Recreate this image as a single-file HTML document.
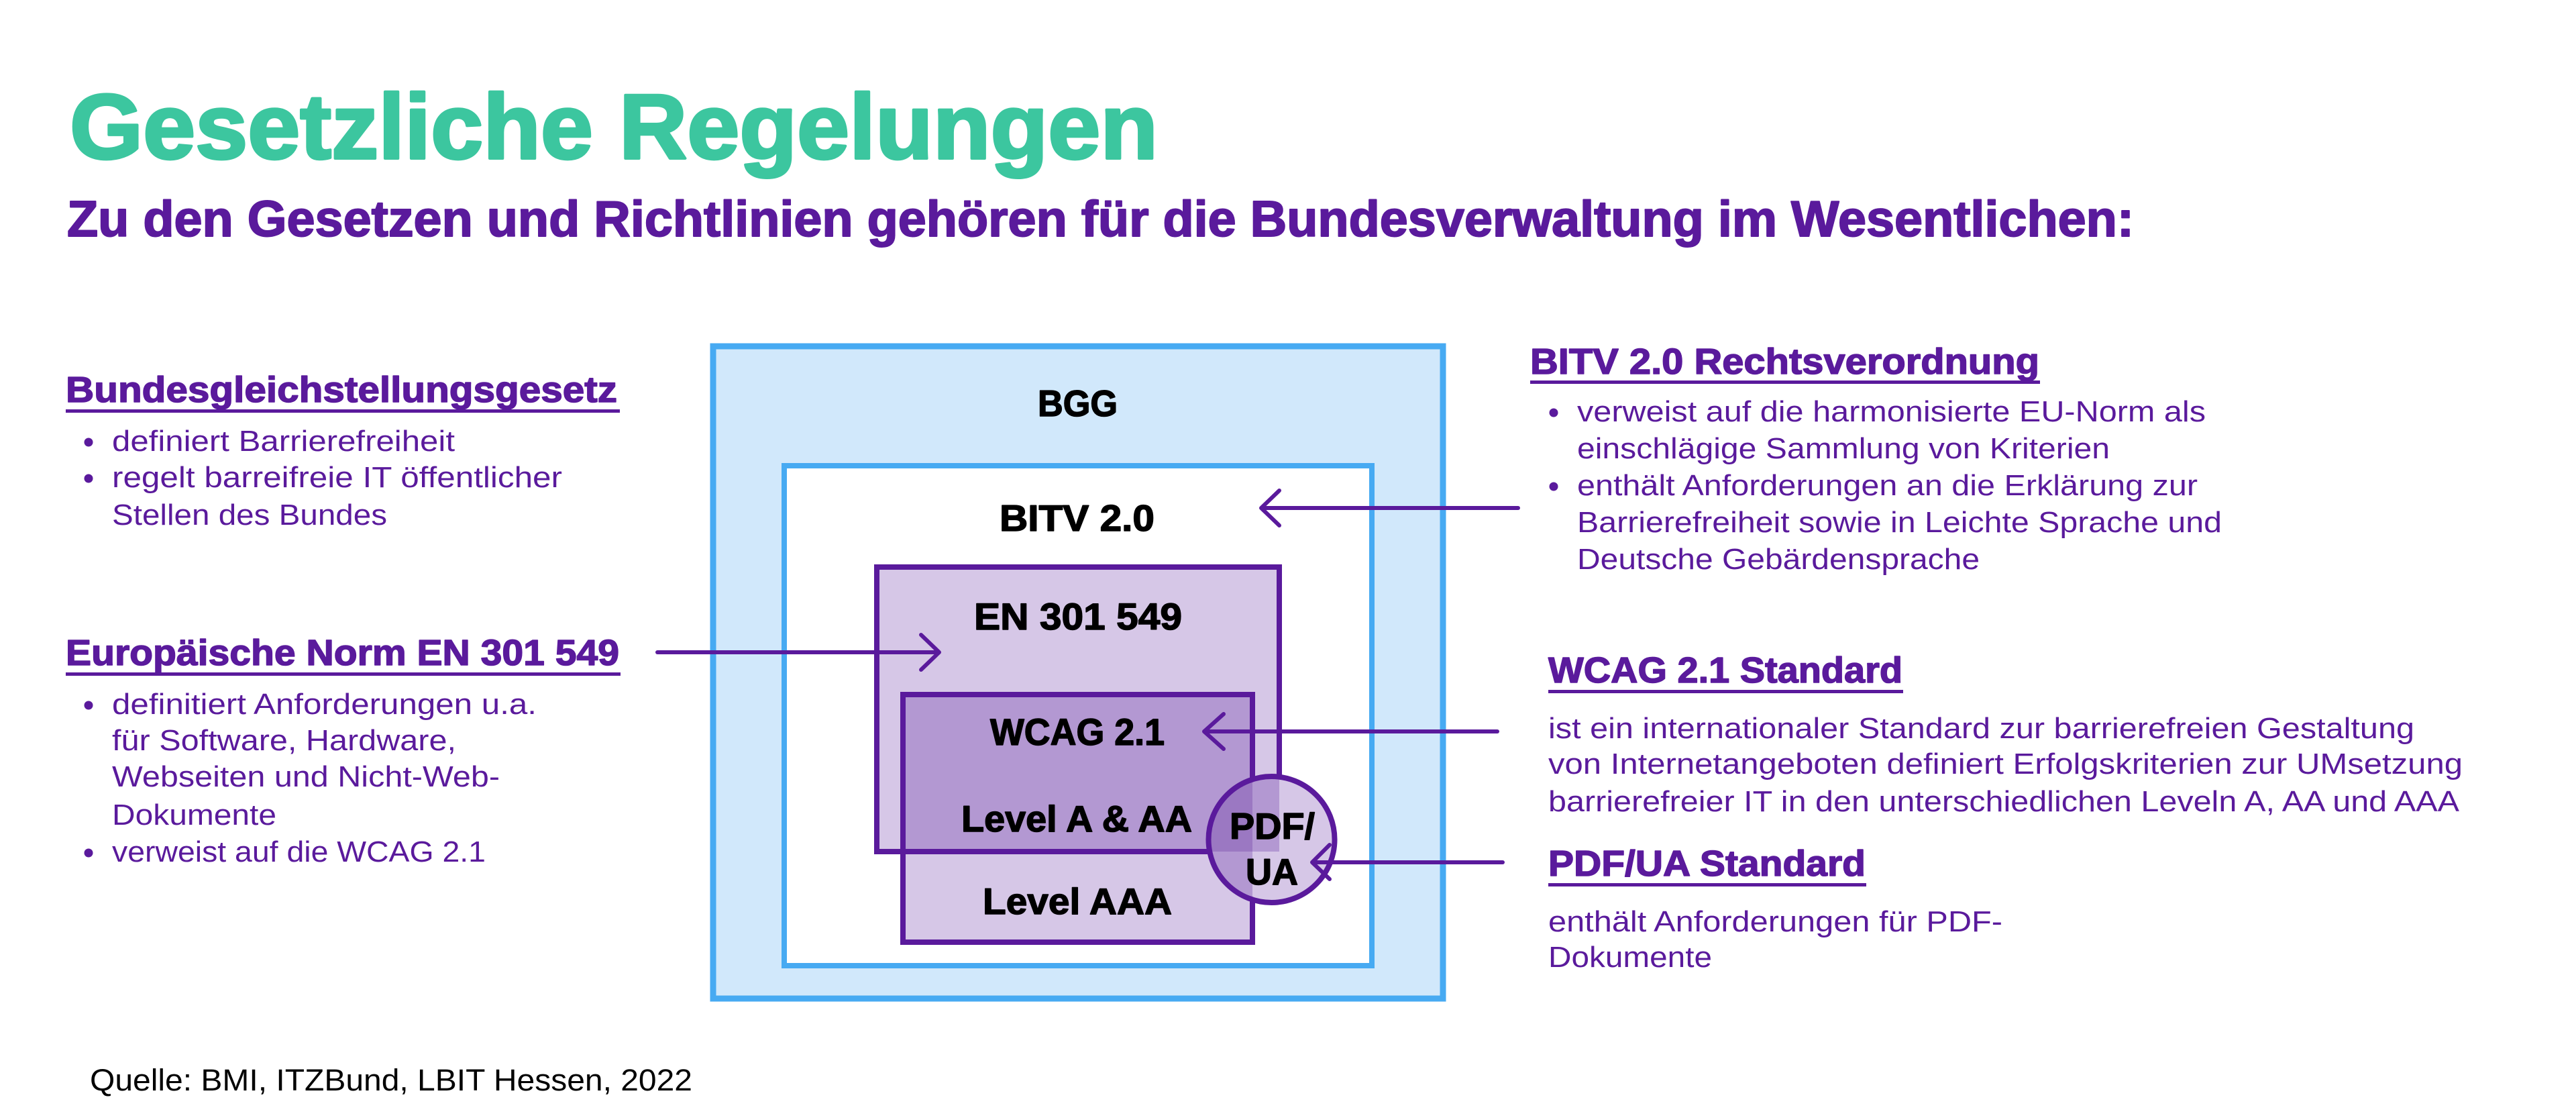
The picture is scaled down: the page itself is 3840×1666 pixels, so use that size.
<!DOCTYPE html>
<html><head><meta charset="utf-8"><style>
html,body{margin:0;padding:0;background:#fff;}
svg{display:block;}
.b{font-family:"Liberation Sans",Arial,sans-serif;font-weight:bold;}
.r{font-family:"Liberation Sans",Arial,sans-serif;font-weight:normal;}
</style></head><body>
<svg width="3840" height="1666" viewBox="0 0 3840 1666" xmlns="http://www.w3.org/2000/svg">
<rect width="3840" height="1666" fill="#fff"/>
<!-- Title -->
<text class="b" x="104" y="236" font-size="137" fill="#3cc69f" stroke="#3cc69f" stroke-width="4" stroke-linejoin="round" textLength="1622" lengthAdjust="spacingAndGlyphs">Gesetzliche Regelungen</text>
<text class="b" x="100" y="352" font-size="75" fill="#5a1a9c" stroke="#5a1a9c" stroke-width="2" stroke-linejoin="round" textLength="3081" lengthAdjust="spacingAndGlyphs">Zu den Gesetzen und Richtlinien gehören für die Bundesverwaltung im Wesentlichen:</text>

<!-- Diagram -->
<defs><clipPath id="cc"><circle cx="1895.5" cy="1251" r="94"/></clipPath></defs>
<rect x="1063" y="516" width="1088" height="972" fill="#d1e8fb" stroke="#47aaf2" stroke-width="9"/>
<rect x="1169" y="694" width="876" height="745" fill="#ffffff" stroke="#47aaf2" stroke-width="8"/>
<rect x="1307" y="845" width="600" height="424" fill="#d6c7e7"/>
<rect x="1346" y="1035" width="521" height="369" fill="#d6c7e7"/>
<rect x="1346" y="1035" width="521" height="234" fill="#b398d2"/>
<rect x="1307" y="845" width="600" height="424" fill="none" stroke="#5a1a9c" stroke-width="8"/>
<rect x="1346" y="1035" width="521" height="369" fill="none" stroke="#5a1a9c" stroke-width="8"/>
<!-- circle -->
<circle cx="1895.5" cy="1251" r="94" fill="#d6c7e7"/>
<g clip-path="url(#cc)">
<rect x="1300" y="840" width="607" height="429" fill="#b398d2"/>
<rect x="1340" y="1030" width="527" height="374" fill="#b398d2"/>
<rect x="1340" y="1030" width="527" height="239" fill="#9b78c2"/>
</g>
<circle cx="1895.5" cy="1251" r="94" fill="none" stroke="#5a1a9c" stroke-width="8"/>

<!-- labels -->
<g fill="#000" stroke="#000" stroke-width="1.5" stroke-linejoin="round">
<text class="b" x="1547" y="620" font-size="55" textLength="119" lengthAdjust="spacingAndGlyphs">BGG</text>
<text class="b" x="1490" y="791" font-size="55" textLength="231" lengthAdjust="spacingAndGlyphs">BITV 2.0</text>
<text class="b" x="1452" y="938" font-size="56" textLength="310" lengthAdjust="spacingAndGlyphs">EN 301 549</text>
<text class="b" x="1476" y="1110" font-size="56" textLength="260" lengthAdjust="spacingAndGlyphs">WCAG 2.1</text>
<text class="b" x="1433" y="1239" font-size="55" textLength="344" lengthAdjust="spacingAndGlyphs">Level A &amp; AA</text>
<text class="b" x="1465" y="1362" font-size="55" textLength="282" lengthAdjust="spacingAndGlyphs">Level AAA</text>
<text class="b" x="1833" y="1250" font-size="55" textLength="127" lengthAdjust="spacingAndGlyphs">PDF/</text>
<text class="b" x="1857" y="1318" font-size="55" textLength="78" lengthAdjust="spacingAndGlyphs">UA</text>
</g>

<!-- arrows -->
<g stroke="#5a1a9c" stroke-width="6" stroke-linecap="round" stroke-linejoin="round" fill="none">
<line x1="2263" y1="757" x2="1882" y2="757"/>
<polyline points="1907,731 1880,757 1907,783"/>
<line x1="980" y1="972" x2="1398" y2="972"/>
<polyline points="1373,946 1400,972 1373,998"/>
<line x1="2232" y1="1090" x2="1797" y2="1090"/>
<polyline points="1824,1064 1795,1090 1824,1116"/>
<line x1="2240" y1="1285" x2="1958" y2="1285"/>
<polyline points="1982,1259 1956,1285 1982,1310"/>
</g>

<!-- Left column -->
<g fill="#5a1a9c">
<text class="b" x="98" y="599" font-size="54" stroke="#5a1a9c" stroke-width="1.5" stroke-linejoin="round" textLength="822" lengthAdjust="spacingAndGlyphs">Bundesgleichstellungsgesetz</text>
<rect x="98" y="610" width="826" height="5"/>
<circle cx="132" cy="659" r="6.5"/>
<text class="r" x="167" y="672" font-size="44" textLength="511" lengthAdjust="spacingAndGlyphs">definiert Barrierefreiheit</text>
<circle cx="132" cy="713" r="6.5"/>
<text class="r" x="167" y="726" font-size="44" textLength="671" lengthAdjust="spacingAndGlyphs">regelt barreifreie IT öffentlicher</text>
<text class="r" x="167" y="782" font-size="44" textLength="410" lengthAdjust="spacingAndGlyphs">Stellen des Bundes</text>

<text class="b" x="98" y="991" font-size="54" stroke="#5a1a9c" stroke-width="1.5" stroke-linejoin="round" textLength="825" lengthAdjust="spacingAndGlyphs">Europäische Norm EN 301 549</text>
<rect x="98" y="1002" width="827" height="5"/>
<circle cx="132" cy="1051" r="6.5"/>
<text class="r" x="167" y="1064" font-size="44" textLength="633" lengthAdjust="spacingAndGlyphs">definitiert Anforderungen u.a.</text>
<text class="r" x="167" y="1118" font-size="44" textLength="513" lengthAdjust="spacingAndGlyphs">für Software, Hardware,</text>
<text class="r" x="167" y="1172" font-size="44" textLength="578" lengthAdjust="spacingAndGlyphs">Webseiten und Nicht-Web-</text>
<text class="r" x="167" y="1229" font-size="44" textLength="245" lengthAdjust="spacingAndGlyphs">Dokumente</text>
<circle cx="132" cy="1271" r="6.5"/>
<text class="r" x="167" y="1284" font-size="44" textLength="557" lengthAdjust="spacingAndGlyphs">verweist auf die WCAG 2.1</text>
</g>

<!-- Right column -->
<g fill="#5a1a9c">
<text class="b" x="2281" y="557" font-size="54" stroke="#5a1a9c" stroke-width="1.5" stroke-linejoin="round" textLength="759" lengthAdjust="spacingAndGlyphs">BITV 2.0 Rechtsverordnung</text>
<rect x="2281" y="567" width="760" height="5"/>
<circle cx="2316" cy="615" r="6.5"/>
<text class="r" x="2351" y="628" font-size="44" textLength="937" lengthAdjust="spacingAndGlyphs">verweist auf die harmonisierte EU-Norm als</text>
<text class="r" x="2351" y="683" font-size="44" textLength="794" lengthAdjust="spacingAndGlyphs">einschlägige Sammlung von Kriterien</text>
<circle cx="2316" cy="725" r="6.5"/>
<text class="r" x="2351" y="738" font-size="44" textLength="925" lengthAdjust="spacingAndGlyphs">enthält Anforderungen an die Erklärung zur</text>
<text class="r" x="2351" y="793" font-size="44" textLength="961" lengthAdjust="spacingAndGlyphs">Barrierefreiheit sowie in Leichte Sprache und</text>
<text class="r" x="2351" y="848" font-size="44" textLength="600" lengthAdjust="spacingAndGlyphs">Deutsche Gebärdensprache</text>

<text class="b" x="2308" y="1017" font-size="54" stroke="#5a1a9c" stroke-width="1.5" stroke-linejoin="round" textLength="528" lengthAdjust="spacingAndGlyphs">WCAG 2.1 Standard</text>
<rect x="2308" y="1028" width="529" height="5"/>
<text class="r" x="2308" y="1100" font-size="44" textLength="1291" lengthAdjust="spacingAndGlyphs">ist ein internationaler Standard zur barrierefreien Gestaltung</text>
<text class="r" x="2308" y="1153" font-size="44" textLength="1363" lengthAdjust="spacingAndGlyphs">von Internetangeboten definiert Erfolgskriterien zur UMsetzung</text>
<text class="r" x="2308" y="1209" font-size="44" textLength="1358" lengthAdjust="spacingAndGlyphs">barrierefreier IT in den unterschiedlichen Leveln A, AA und AAA</text>

<text class="b" x="2308" y="1305" font-size="54" stroke="#5a1a9c" stroke-width="1.5" stroke-linejoin="round" textLength="473" lengthAdjust="spacingAndGlyphs">PDF/UA Standard</text>
<rect x="2308" y="1316" width="474" height="5"/>
<text class="r" x="2308" y="1388" font-size="44" textLength="677" lengthAdjust="spacingAndGlyphs">enthält Anforderungen für PDF-</text>
<text class="r" x="2308" y="1441" font-size="44" textLength="244" lengthAdjust="spacingAndGlyphs">Dokumente</text>
</g>

<!-- Footer -->
<text class="r" x="134" y="1625" font-size="45" fill="#000" textLength="898" lengthAdjust="spacingAndGlyphs">Quelle: BMI, ITZBund, LBIT Hessen, 2022</text>
</svg>
</body></html>
